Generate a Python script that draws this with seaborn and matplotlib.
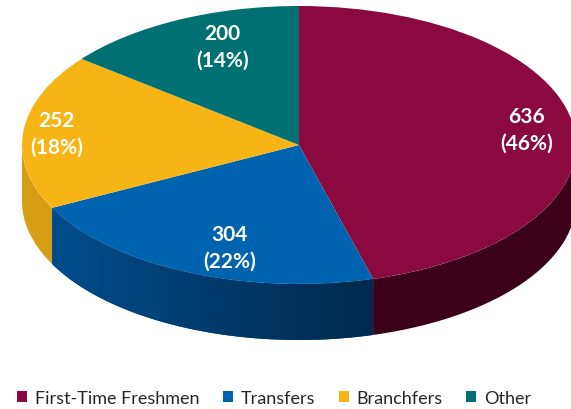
import numpy as np
import matplotlib
matplotlib.use("Agg")
import matplotlib.pyplot as plt
from matplotlib.patches import Polygon, Patch
import matplotlib.colors as mcolors
import seaborn as sns

categories = ["First-Time Freshmen", "Transfers", "Branchfers", "Other"]
counts = [636, 304, 252, 200]
percent_labels = ["46%", "22%", "18%", "14%"]

top_colors = ["#8a0a40", "#0063af", "#f7b515", "#007072"]
side_colors = [("#3c0019", "#3c0019"), ("#004d8c", "#00294d"),
               ("#d69d15", "#d69d15"), ("#004f50", "#004f50")]
label_radius = [0.83, 0.78, 0.88, 0.76]
label_shift = [0.0, 5.0, 0.0, -4.6]  # degrees (math orientation)

sns.set_theme(style="white")
plt.rcParams["font.family"] = ["Lato", "DejaVu Sans"]

W, H = 571, 410
fig = plt.figure(figsize=(W / 100, H / 100), dpi=100)
ax = fig.add_axes([0, 0.0, 1, 1])

palette = sns.color_palette(top_colors)

# top surface
wedges, _ = ax.pie(counts, colors=palette, startangle=90, counterclock=False,
                   radius=1.0, center=(0, 0),
                   wedgeprops=dict(linewidth=0, zorder=3))
ax.set_aspect("auto")

# geometry in pixels -> data
cx_px, cy_px = 299, 146
a_px, b_px = 277, 139
depth = 56 / b_px
xlim = (-cx_px / a_px, (W - cx_px) / a_px)
ylim = (-(H - cy_px) / b_px, cy_px / b_px)
ax.axis("off")

# side walls
total = float(sum(counts))
start = 90.0
for i, c in enumerate(counts):
    sweep = 360.0 * c / total
    t1, t0 = start - sweep, start  # clockwise
    start = t1
    lo, hi = t1 % 360, t0 % 360
    if hi <= lo:
        hi += 360
    for off in (0, 360, -360):
        s = max(lo + off, 180)
        e = min(hi + off, 360)
        if e > s:
            t = np.radians(np.linspace(s, e, 200))
            xs = np.cos(t)
            ys = np.sin(t)
            pts = np.concatenate([np.column_stack([xs, ys]),
                                  np.column_stack([xs[::-1], ys[::-1] - depth])])
            poly = Polygon(pts, closed=True, facecolor=side_colors[i][0],
                           edgecolor="none", zorder=1)
            ax.add_patch(poly)
            c0, c1 = side_colors[i]
            if c0 != c1:
                cmap = mcolors.LinearSegmentedColormap.from_list("g", [c0, c1])
                grad = np.linspace(0, 1, 256).reshape(1, -1)
                im = ax.imshow(grad, cmap=cmap, aspect="auto",
                               extent=[xs.min(), xs.max(), ys.min() - depth - 0.05, ys.max() + 0.05],
                               zorder=2)
                im.set_clip_path(poly)

ax.set_xlim(*xlim)
ax.set_ylim(*ylim)

# labels
start = 90.0
for i, c in enumerate(counts):
    sweep = 360.0 * c / total
    mid = np.radians(start - sweep / 2 + label_shift[i])
    start -= sweep
    r = label_radius[i]
    ax.text(r * np.cos(mid), r * np.sin(mid), f"{c}\n({percent_labels[i]})",
            ha="center", va="center", color="white", fontsize=15,
            fontweight="bold", linespacing=1.42, zorder=5)

handles = [Patch(facecolor=col, edgecolor="none", label=lab)
           for lab, col in zip(categories, top_colors)]
fig.legend(handles=handles, loc="center", bbox_to_anchor=(0.48, 0.028), ncol=4,
           frameon=False, fontsize=13, handlelength=0.55, handleheight=0.55,
           handletextpad=0.45, columnspacing=1.3)

fig.savefig("out.png", dpi=100)
